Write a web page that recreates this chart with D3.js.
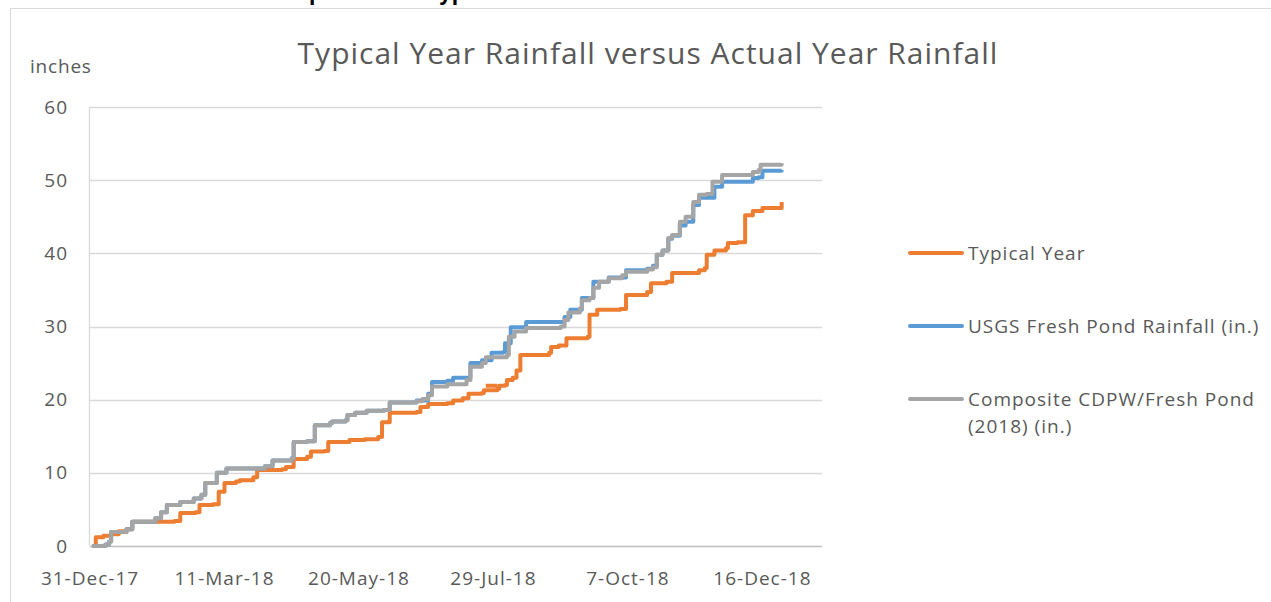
<!DOCTYPE html>
<html>
<head>
<meta charset="utf-8">
<script src="https://cdn.jsdelivr.net/npm/d3@7"></script>
<style>
  body { margin: 0; background: #fff; }
  svg { display: block; }
  text { font-family: "Open Sans", "Liberation Sans", sans-serif; fill: #595959; }
</style>
</head>
<body>
<script>
// day numbers count from 31-Dec-17 (day 0); values are cumulative inches
const startDate = new Date(2017, 11, 31);

const seriesNames = ["Typical Year", "USGS Fresh Pond Rainfall (in.)", "Composite CDPW/Fresh Pond (2018) (in.)"];
const seriesColors = ["#ED7D31", "#5B9BD5", "#A5A5A5"];

const typicalYear = [
  [1, 0], [3, 1.2], [7, 1.4], [11, 1.6], [15, 2.0], [19, 2.3], [22, 3.3], [32, 3.3], [44, 3.4],
  [47, 4.5], [55, 4.6], [57, 5.6], [64, 5.7], [67, 7.4], [70, 8.6], [76, 8.8], [78, 9.0],
  [85, 9.4], [87, 10.4], [100, 10.5], [102, 10.8], [106, 11.9], [113, 12.2], [115, 12.9],
  [122, 13.0], [124, 14.2], [135, 14.5], [143, 14.6], [150, 14.9], [152, 16.9], [156, 18.2],
  [170, 18.3], [172, 19.0], [176, 19.4], [186, 19.5], [189, 19.9], [194, 20.2], [197, 20.8],
  [204, 20.9], [205, 21.3], [212, 21.5], [213, 21.9], [216, 22.0], [217, 22.7], [220, 23.0],
  [222, 24.0], [224, 26.1], [239, 26.4], [240, 27.2], [244, 27.4], [248, 28.4], [259, 28.6],
  [260, 31.6], [264, 32.3], [276, 32.4], [279, 34.3], [290, 34.7], [292, 35.9], [300, 36.1],
  [303, 37.3], [317, 37.7], [320, 38.0], [321, 39.8], [325, 40.4], [331, 40.7], [332, 41.4],
  [337, 41.5], [341, 45.2], [345, 45.8], [350, 46.2], [356, 46.2], [360, 47.0]
];
// short stray piece of the typical-year line (late July)
const typicalYearStray = [[206, 21.9], [212, 21.9]];

const usgsFreshPond = [
  [1, 0], [8, 0.2], [10, 0.6], [11, 1.9], [19, 2.3], [22, 3.3], [32, 3.3], [34, 3.8], [37, 4.6],
  [40, 5.6], [47, 6.0], [54, 6.5], [58, 7.0], [60, 8.6], [66, 10.0], [71, 10.6], [91, 10.9],
  [95, 11.7], [105, 12.0], [106, 14.2], [113, 14.3], [117, 16.5], [125, 16.8], [126, 17.0],
  [133, 17.2], [134, 17.9], [138, 18.2], [144, 18.5], [153, 18.6], [156, 19.6], [170, 19.9],
  [176, 20.8], [178, 22.4], [186, 22.6], [189, 23.0], [196, 23.0], [198, 25.0], [204, 25.4],
  [209, 26.4], [215, 26.5], [216, 27.7], [219, 29.9], [227, 30.6], [245, 30.6], [247, 31.3],
  [250, 32.3], [256, 33.9], [262, 36.1], [270, 36.7], [279, 37.7], [290, 37.9], [293, 38.3],
  [295, 39.8], [298, 40.4], [301, 42.0], [303, 42.4], [307, 43.8], [310, 44.3], [314, 46.6],
  [317, 47.6], [325, 49.1], [329, 49.8], [344, 49.8], [345, 50.3], [348, 50.4], [350, 51.3],
  [360, 51.4]
];

const compositeCdpw = [
  [1, 0], [8, 0.2], [10, 0.6], [11, 1.9], [19, 2.3], [22, 3.3], [32, 3.3], [34, 3.8], [37, 4.6],
  [40, 5.6], [47, 6.0], [54, 6.5], [58, 7.0], [60, 8.6], [66, 10.0], [71, 10.6], [91, 10.9],
  [95, 11.7], [105, 12.0], [106, 14.2], [113, 14.3], [117, 16.5], [125, 16.8], [126, 17.0],
  [133, 17.2], [134, 17.9], [138, 18.2], [144, 18.5], [153, 18.6], [156, 19.6], [170, 19.8],
  [173, 20.1], [176, 20.6], [178, 21.8], [186, 22.1], [196, 22.7], [198, 24.5], [204, 25.0],
  [206, 25.8], [217, 26.1], [218, 28.6], [221, 29.3], [227, 29.8], [245, 30.0], [247, 30.9],
  [249, 31.9], [255, 32.5], [256, 33.6], [260, 33.9], [262, 35.3], [265, 36.1], [270, 36.6],
  [277, 37.0], [279, 37.5], [290, 37.8], [293, 38.1], [295, 39.8], [298, 40.4], [301, 42.1],
  [303, 42.5], [307, 44.3], [310, 45.0], [314, 47.0], [317, 48.0], [321, 48.1], [324, 49.8],
  [329, 50.7], [344, 50.7], [345, 51.1], [348, 51.4], [349, 52.1], [360, 52.3]
];

const yTicks = [0, 10, 20, 30, 40, 50, 60];
const xTickDays = [0, 70, 140, 210, 280, 350];

const W = 1271, H = 602;
const svg = d3.select("body").append("svg")
  .attr("width", W)
  .attr("height", H);

// chart border (runs off the right and bottom of the shot)
svg.append("rect")
  .attr("x", 10.5).attr("y", 8.5)
  .attr("width", W + 20).attr("height", H + 20)
  .style("fill", "none")
  .style("stroke", "#d9d9d9");

// heading of the page above, mostly cut off by the top edge
svg.append("text")
  .attr("x", 258).attr("y", 0)
  .style("font-family", "'Liberation Sans', Arial, sans-serif")
  .style("font-weight", "bold")
  .style("font-size", "23px")
  .style("fill", "#000")
  .text("Comparison of Typical Year Rainfall");

const x = d3.scaleTime()
  .domain([startDate, d3.timeDay.offset(startDate, 381)])
  .range([90, 822]);

const y = d3.scaleLinear()
  .domain([0, 60])
  .range([546, 107]);

const toDate = d => d3.timeDay.offset(startDate, d);

// gridlines
svg.append("g")
  .selectAll("line")
  .data(yTicks.filter(t => t > 0))
  .enter().append("line")
  .attr("x1", 90).attr("x2", 822)
  .attr("y1", d => Math.round(y(d)) + 0.5)
  .attr("y2", d => Math.round(y(d)) + 0.5)
  .style("stroke", "#d9d9d9")
  .style("stroke-width", 1.3);

// y axis line and x axis line
svg.append("line")
  .attr("x1", 89.5).attr("x2", 89.5)
  .attr("y1", y(60)).attr("y2", y(0))
  .style("stroke", "#d9d9d9")
  .style("stroke-width", 1.3);

svg.append("line")
  .attr("x1", 90).attr("x2", 822)
  .attr("y1", Math.round(y(0)) + 0.5).attr("y2", Math.round(y(0)) + 0.5)
  .style("stroke", "#bfbfbf")
  .style("stroke-width", 1.3);

// y tick labels
svg.append("g")
  .selectAll("text")
  .data(yTicks)
  .enter().append("text")
  .attr("x", 68)
  .attr("y", d => y(d))
  .attr("dy", "0.35em")
  .attr("text-anchor", "end")
  .style("font-size", "19px")
  .style("letter-spacing", "1px")
  .text(d => d);

// x tick labels
const fmt = d3.timeFormat("%-d-%b-%y");
svg.append("g")
  .selectAll("text")
  .data(xTickDays)
  .enter().append("text")
  .attr("x", d => x(toDate(d)))
  .attr("y", 585)
  .attr("text-anchor", "middle")
  .style("font-size", "19px")
  .style("letter-spacing", "1px")
  .text(d => fmt(toDate(d)));

svg.append("text")
  .attr("x", 30).attr("y", 73)
  .style("font-size", "19px")
  .style("letter-spacing", "0.8px")
  .text("inches");

svg.append("text")
  .attr("x", 648).attr("y", 64)
  .attr("text-anchor", "middle")
  .style("font-size", "30px")
  .style("letter-spacing", "1px")
  .text("Typical Year Rainfall versus Actual Year Rainfall");

const line = d3.line()
  .x(d => x(toDate(d[0])))
  .y(d => y(d[1]))
  .curve(d3.curveStepAfter);

const allSeries = [typicalYear, usgsFreshPond, compositeCdpw];

svg.append("path")
  .datum(typicalYearStray)
  .attr("d", d3.line().x(d => x(toDate(d[0]))).y(d => y(d[1])))
  .style("fill", "none")
  .style("stroke", seriesColors[0])
  .style("stroke-width", 4);

svg.append("g")
  .selectAll("path")
  .data(allSeries)
  .enter().append("path")
  .attr("d", line)
  .style("fill", "none")
  .style("stroke", (d, i) => seriesColors[i])
  .style("stroke-width", 4)
  .style("stroke-linejoin", "round");

// legend
const legendY = [253, 326, 399];
const legend = svg.append("g")
  .selectAll("g")
  .data(seriesNames)
  .enter().append("g")
  .attr("transform", (d, i) => "translate(0," + legendY[i] + ")");

legend.append("line")
  .attr("x1", 910).attr("x2", 962)
  .style("stroke", (d, i) => seriesColors[i])
  .style("stroke-width", 4)
  .style("stroke-linecap", "round");

legend.append("text")
  .attr("x", 968)
  .style("font-size", "19px")
  .style("letter-spacing", "1px")
  .each(function(d) {
    const parts = d === seriesNames[2] ? ["Composite CDPW/Fresh Pond", "(2018) (in.)"] : [d];
    d3.select(this).selectAll("tspan")
      .data(parts)
      .enter().append("tspan")
      .attr("x", 968)
      .attr("dy", (p, j) => j === 0 ? "0.35em" : "1.45em")
      .text(p => p);
  });
</script>
</body>
</html>
